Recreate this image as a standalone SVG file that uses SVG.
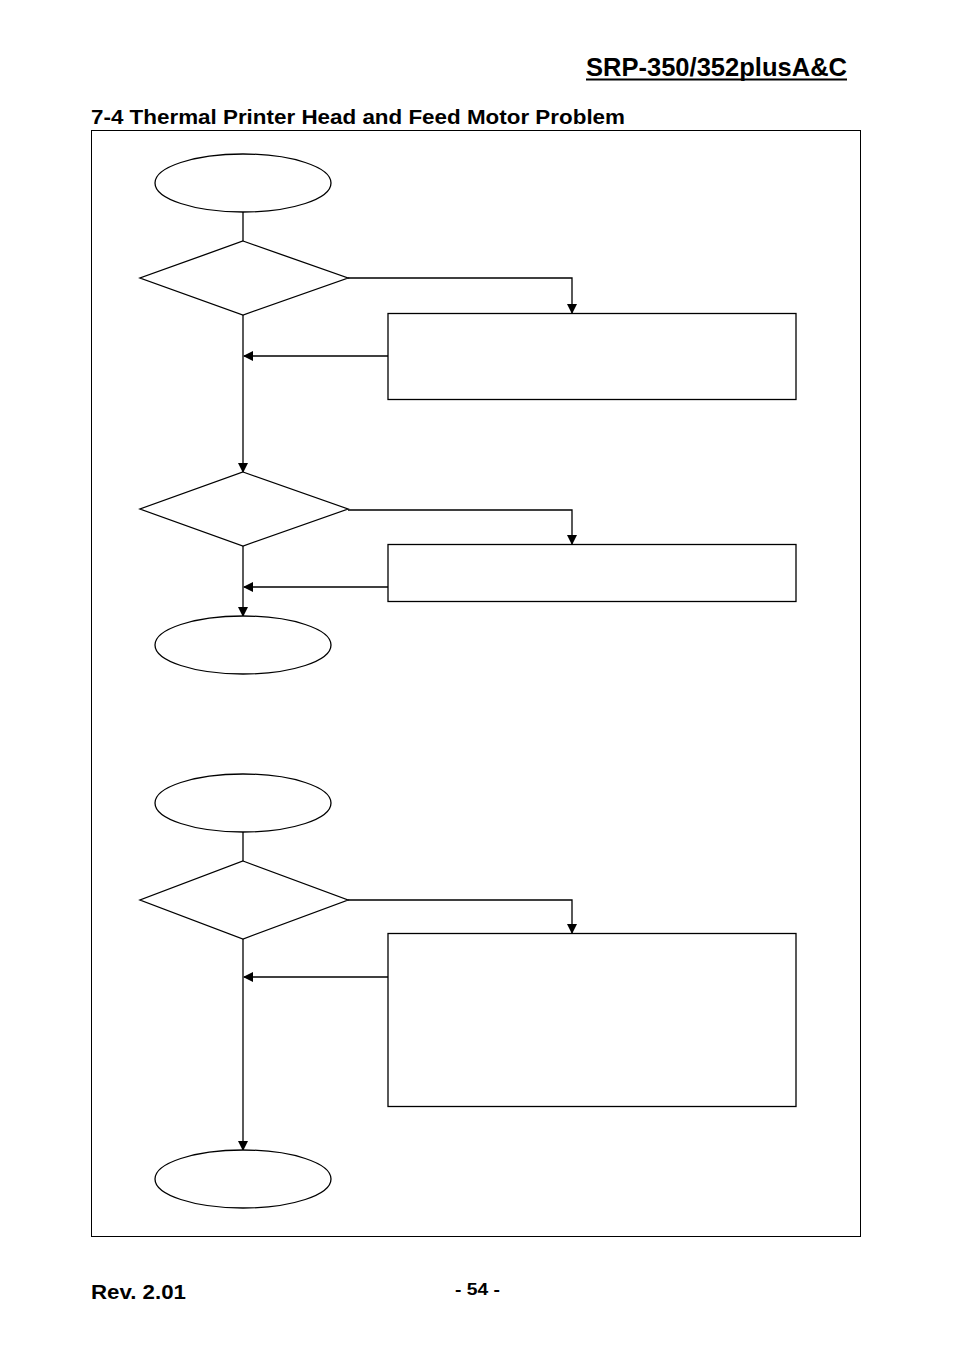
<svg xmlns="http://www.w3.org/2000/svg" width="954" height="1350" viewBox="0 0 954 1350">
<style>
.s{fill:#fff;stroke:#000;stroke-width:1.3}
.c{fill:none;stroke:#000;stroke-width:1.3}
.t{font-family:"Liberation Sans",Arial,sans-serif;font-weight:bold;fill:#000}
</style>
<defs>
<marker id="a" markerWidth="10" markerHeight="10" refX="9" refY="5" orient="auto" markerUnits="userSpaceOnUse">
<path d="M0,0 L10,5 L0,10 Z" fill="#000"/>
</marker>
</defs>
<rect width="954" height="1350" fill="#fff"/>
<text class="t" x="586" y="76" font-size="25" textLength="261" lengthAdjust="spacingAndGlyphs">SRP-350/352plusA&amp;C</text>
<line x1="586" y1="79.5" x2="847" y2="79.5" stroke="#000" stroke-width="1.8"/>
<text class="t" x="91" y="124" font-size="21" textLength="534" lengthAdjust="spacingAndGlyphs">7-4 Thermal Printer Head and Feed Motor Problem</text>
<rect x="91.5" y="130.5" width="769" height="1106" fill="none" stroke="#000" stroke-width="1"/>
<g id="connectors">
<line class="c" x1="243" y1="212" x2="243" y2="241"/>
<polyline class="c" points="348,278 572,278 572,313" marker-end="url(#a)"/>
<line class="c" x1="388" y1="356" x2="244" y2="356" marker-end="url(#a)"/>
<line class="c" x1="243" y1="315" x2="243" y2="472" marker-end="url(#a)"/>
<polyline class="c" points="348,510 572,510 572,544" marker-end="url(#a)"/>
<line class="c" x1="388" y1="587" x2="244" y2="587" marker-end="url(#a)"/>
<line class="c" x1="243" y1="546" x2="243" y2="616" marker-end="url(#a)"/>
<line class="c" x1="243" y1="832" x2="243" y2="861"/>
<polyline class="c" points="348,900 572,900 572,933" marker-end="url(#a)"/>
<line class="c" x1="388" y1="977" x2="244" y2="977" marker-end="url(#a)"/>
<line class="c" x1="243" y1="939" x2="243" y2="1150" marker-end="url(#a)"/>
</g>
<g id="start1"><ellipse class="s" cx="243" cy="183" rx="88" ry="29"/></g>
<g id="decision1"><polygon class="s" points="243,241 348,278 243,315 140,278"/></g>
<g id="action1"><rect class="s" x="388" y="313.5" width="408" height="86"/></g>
<g id="decision2"><polygon class="s" points="243,472 348,509 243,546 140,509"/></g>
<g id="action2"><rect class="s" x="388" y="544.5" width="408" height="57"/></g>
<g id="end1"><ellipse class="s" cx="243" cy="645" rx="88" ry="29"/></g>
<g id="start2"><ellipse class="s" cx="243" cy="803" rx="88" ry="29"/></g>
<g id="decision3"><polygon class="s" points="243,861 348,900 243,939 140,900"/></g>
<g id="action3"><rect class="s" x="388" y="933.5" width="408" height="173"/></g>
<g id="end2"><ellipse class="s" cx="243" cy="1179" rx="88" ry="29"/></g>
<text class="t" x="91" y="1299" font-size="21" textLength="95" lengthAdjust="spacingAndGlyphs">Rev. 2.01</text>
<text class="t" x="455" y="1295" font-size="17" textLength="45" lengthAdjust="spacingAndGlyphs">- 54 -</text>
</svg>
